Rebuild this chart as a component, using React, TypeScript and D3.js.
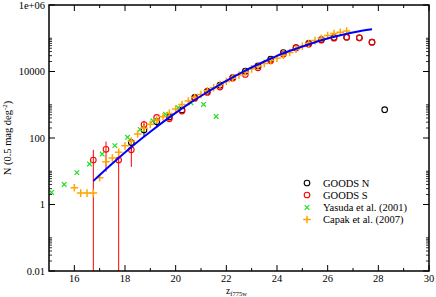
import React from 'react';
import * as d3 from 'd3';

// GOODS N (black circles)
const goodsNMag = [18.25, 18.75, 19.25, 19.75, 20.25, 20.75, 21.25, 21.75, 22.25, 22.75, 23.25, 23.75, 24.25, 24.75, 25.25, 25.75, 26.25, 26.75, 27.25, 27.75, 28.25];
const goodsNCount = [73, 174, 309, 427, 692, 1660, 2510, 3890, 6610, 10200, 14800, 23400, 37000, 52500, 70000, 91000, 105000, 108000, 103000, 76000, 710];
const goodsNErrMag = [18.25, 18.75, 19.25];
const goodsNErrHi = [100, 263, 380];
const goodsNErrLo = [42, 107, 200];

// GOODS S (red circles)
const goodsSMag = [16.75, 17.25, 17.75, 18.25, 18.75, 19.25, 19.75, 20.25, 20.75, 21.25, 21.75, 22.25, 22.75, 23.25, 23.75, 24.25, 24.75, 25.25, 25.75, 26.25, 26.75, 27.25, 27.75];
const goodsSCount = [21.8, 45.7, 21.8, 44, 255, 417, 378, 646, 1550, 2350, 3390, 6300, 8130, 12900, 21000, 33000, 51000, 66500, 87000, 100000, 107000, 103000, 76000];
const goodsSErrMag = [16.75, 17.25, 17.75, 18.25, 18.75];
const goodsSErrHi = [44, 78, 44, 62, 330];
const goodsSErrLo = [0, 9.8, 0, 13.5, 180];

// Yasuda et al. (2001)
const yasudaMag = [15.1, 15.6, 16.1, 16.6, 17.1, 17.6, 18.1, 18.6, 19.1, 19.6, 20.1, 20.6, 21.1, 21.6];
const yasudaCount = [2.3, 4.0, 9.1, 16.6, 33, 59, 105, 182, 330, 515, 815, 1150, 1020, 445];

// Capak et al. (2007)
const capakMag = [16.0, 16.25, 16.5, 16.75, 17.0, 17.25, 17.5, 17.75, 18.0, 18.25, 18.5, 18.75, 19.0, 19.25, 19.5, 19.75, 20.0, 20.25, 20.5, 20.75, 21.0, 21.25, 21.5, 21.75, 22.0, 22.25, 22.5, 22.75, 23.0, 23.25, 23.5, 23.75, 24.0, 24.25, 24.5, 24.75, 25.0, 25.25, 25.5, 25.75, 26.0, 26.25, 26.5, 26.75];
const capakCount = [3.2, 2.2, 2.2, 2.2, 6.4, 19.4, 25, 37, 58, 81, 132, 196, 257, 347, 437, 550, 741, 1020, 1290, 1660, 2040, 2630, 3240, 4070, 5000, 6300, 7800, 9500, 12000, 14800, 17400, 21400, 25100, 30900, 37200, 46800, 57500, 70800, 85100, 100000, 120000, 138000, 151000, 166000];

// model curve (blue)
const modelMag = [16.75, 17.5, 18.25, 19.0, 19.75, 20.5, 21.25, 22.0, 22.75, 23.5, 24.25, 25.0, 25.75, 26.5, 27.25, 27.75];
const modelCount = [5.1, 17, 54, 155, 417, 1050, 2400, 5250, 10700, 20000, 35500, 56200, 87100, 123000, 162000, 186000];

// axes
const xMajorTicks = [16, 18, 20, 22, 24, 26, 28, 30];
const xMinorTicks = [17, 19, 21, 23, 25, 27, 29];
const yMajorTicks = [0.01, 1, 100, 10000, 1e6];
const yMajorLabels = ['0.01', '1', '100', '10000', '1e+06'];
const yMinorDecades = [0.01, 1, 100, 10000];

const legendLabels = ['GOODS N', 'GOODS S', 'Yasuda et al. (2001)', 'Capak et al. (2007)'];

const W = 436;
const H = 297;
const margin = { top: 5, right: 7, bottom: 26, left: 49 };
const FONT = '"Liberation Serif", "DejaVu Serif", serif';

export default function App() {
  const x = d3.scaleLinear().domain([15, 30]).range([margin.left, W - margin.right]);
  const y = d3.scaleLog().domain([0.01, 1e6]).range([H - margin.bottom, margin.top]);
  const [x0, x1] = x.range();
  const [yb, yt] = y.range();

  const yMinor: number[] = [];
  yMinorDecades.forEach(d => {
    for (let m = 2; m <= 10; m++) yMinor.push(d * m);
  });

  const line = d3
    .line<number>()
    .x((_, i) => x(modelMag[i]))
    .y(d => y(d))
    .curve(d3.curveMonotoneX);

  const yPos = (v: number) => (v > 0 ? y(v) : yb);

  const circle = (cx: number, cy: number, color: string, key: string) => (
    <circle key={key} cx={cx} cy={cy} r={2.8} fill="none" stroke={color} strokeWidth={1.1} />
  );
  const cross = (cx: number, cy: number, key: string) => (
    <path key={key} d={`M${cx - 2.3},${cy - 2.3}L${cx + 2.3},${cy + 2.3}M${cx - 2.3},${cy + 2.3}L${cx + 2.3},${cy - 2.3}`} stroke="#22dd22" strokeWidth={1.2} />
  );
  const plus = (cx: number, cy: number, key: string) => (
    <path key={key} d={`M${cx - 3.8},${cy}L${cx + 3.8},${cy}M${cx},${cy - 3.8}L${cx},${cy + 3.8}`} stroke="#ffa500" strokeWidth={1.5} />
  );

  const legendX = 307;
  const legendY = [183, 195, 207.5, 219.5];

  return (
    <svg width={W} height={H} style={{ position: 'absolute', left: 0, top: 0, background: '#fff' }} fontFamily={FONT}>
      <defs>
        <clipPath id="plot">
          <rect x={x0} y={yt} width={x1 - x0} height={yb - yt} />
        </clipPath>
      </defs>

      <g clipPath="url(#plot)">
        {/* error bars */}
        {goodsNErrMag.map((m, i) => (
          <line key={'ne' + i} x1={x(m)} x2={x(m)} y1={yPos(goodsNErrHi[i])} y2={yPos(goodsNErrLo[i])} stroke="#000" strokeWidth={1} />
        ))}
        {goodsSErrMag.map((m, i) => (
          <line key={'se' + i} x1={x(m)} x2={x(m)} y1={yPos(goodsSErrHi[i])} y2={yPos(goodsSErrLo[i])} stroke="#ff0000" strokeWidth={1} />
        ))}

        {goodsNMag.map((m, i) => circle(x(m), y(goodsNCount[i]), '#000', 'n' + i))}
        {goodsSMag.map((m, i) => circle(x(m), y(goodsSCount[i]), '#ff0000', 's' + i))}
        {yasudaMag.map((m, i) => cross(x(m), y(yasudaCount[i]), 'y' + i))}
        {capakMag.map((m, i) => plus(x(m), y(capakCount[i]), 'c' + i))}

        <path d={line(modelCount) || ''} fill="none" stroke="#0000ff" strokeWidth={2} />
      </g>

      {/* frame */}
      <rect x={x0} y={yt} width={x1 - x0} height={yb - yt} fill="none" stroke="#000" strokeWidth={1.5} />

      {/* x ticks */}
      {xMajorTicks.map(t => (
        <g key={'xt' + t}>
          <line x1={x(t)} x2={x(t)} y1={yb} y2={yb - 6} stroke="#000" />
          <line x1={x(t)} x2={x(t)} y1={yt} y2={yt + 6} stroke="#000" />
          <text x={x(t)} y={yb + 11} fontSize={10.5} textAnchor="middle">{t}</text>
        </g>
      ))}
      {xMinorTicks.map(t => (
        <g key={'xm' + t}>
          <line x1={x(t)} x2={x(t)} y1={yb} y2={yb - 3} stroke="#000" />
          <line x1={x(t)} x2={x(t)} y1={yt} y2={yt + 3} stroke="#000" />
        </g>
      ))}

      {/* y ticks */}
      {yMajorTicks.map((t, i) => (
        <g key={'yt' + t}>
          <line x1={x0} x2={x0 + 6} y1={y(t)} y2={y(t)} stroke="#000" />
          <line x1={x1} x2={x1 - 6} y1={y(t)} y2={y(t)} stroke="#000" />
          <text x={x0 - 4} y={y(t)} dy="0.35em" fontSize={10.5} textAnchor="end">{yMajorLabels[i]}</text>
        </g>
      ))}
      {yMinor.map((t, i) => (
        <g key={'ym' + i}>
          <line x1={x0} x2={x0 + 3} y1={y(t)} y2={y(t)} stroke="#000" strokeWidth={0.8} />
          <line x1={x1} x2={x1 - 3} y1={y(t)} y2={y(t)} stroke="#000" strokeWidth={0.8} />
        </g>
      ))}

      {/* axis labels */}
      <text x={226} y={293.5} fontSize={9.5}>
        z<tspan fontSize={6.5} dy={2}>f775w</tspan>
      </text>
      <text transform={`translate(11,${(yt + yb) / 2}) rotate(-90)`} textAnchor="middle" fontSize={10.5}>
        N (0.5 mag deg<tspan fontSize={7} dy={-4}>-2</tspan><tspan dy={4}>)</tspan>
      </text>

      {/* legend */}
      {legendLabels.map((label, i) => (
        <g key={'lg' + i}>
          {i === 0 && circle(legendX, legendY[i], '#000', 'l0')}
          {i === 1 && circle(legendX, legendY[i], '#ff0000', 'l1')}
          {i === 2 && cross(legendX, legendY[i], 'l2')}
          {i === 3 && plus(legendX, legendY[i], 'l3')}
          <text x={legendX + 16} y={legendY[i]} dy="0.35em" fontSize={10.5}>{label}</text>
        </g>
      ))}
    </svg>
  );
}
